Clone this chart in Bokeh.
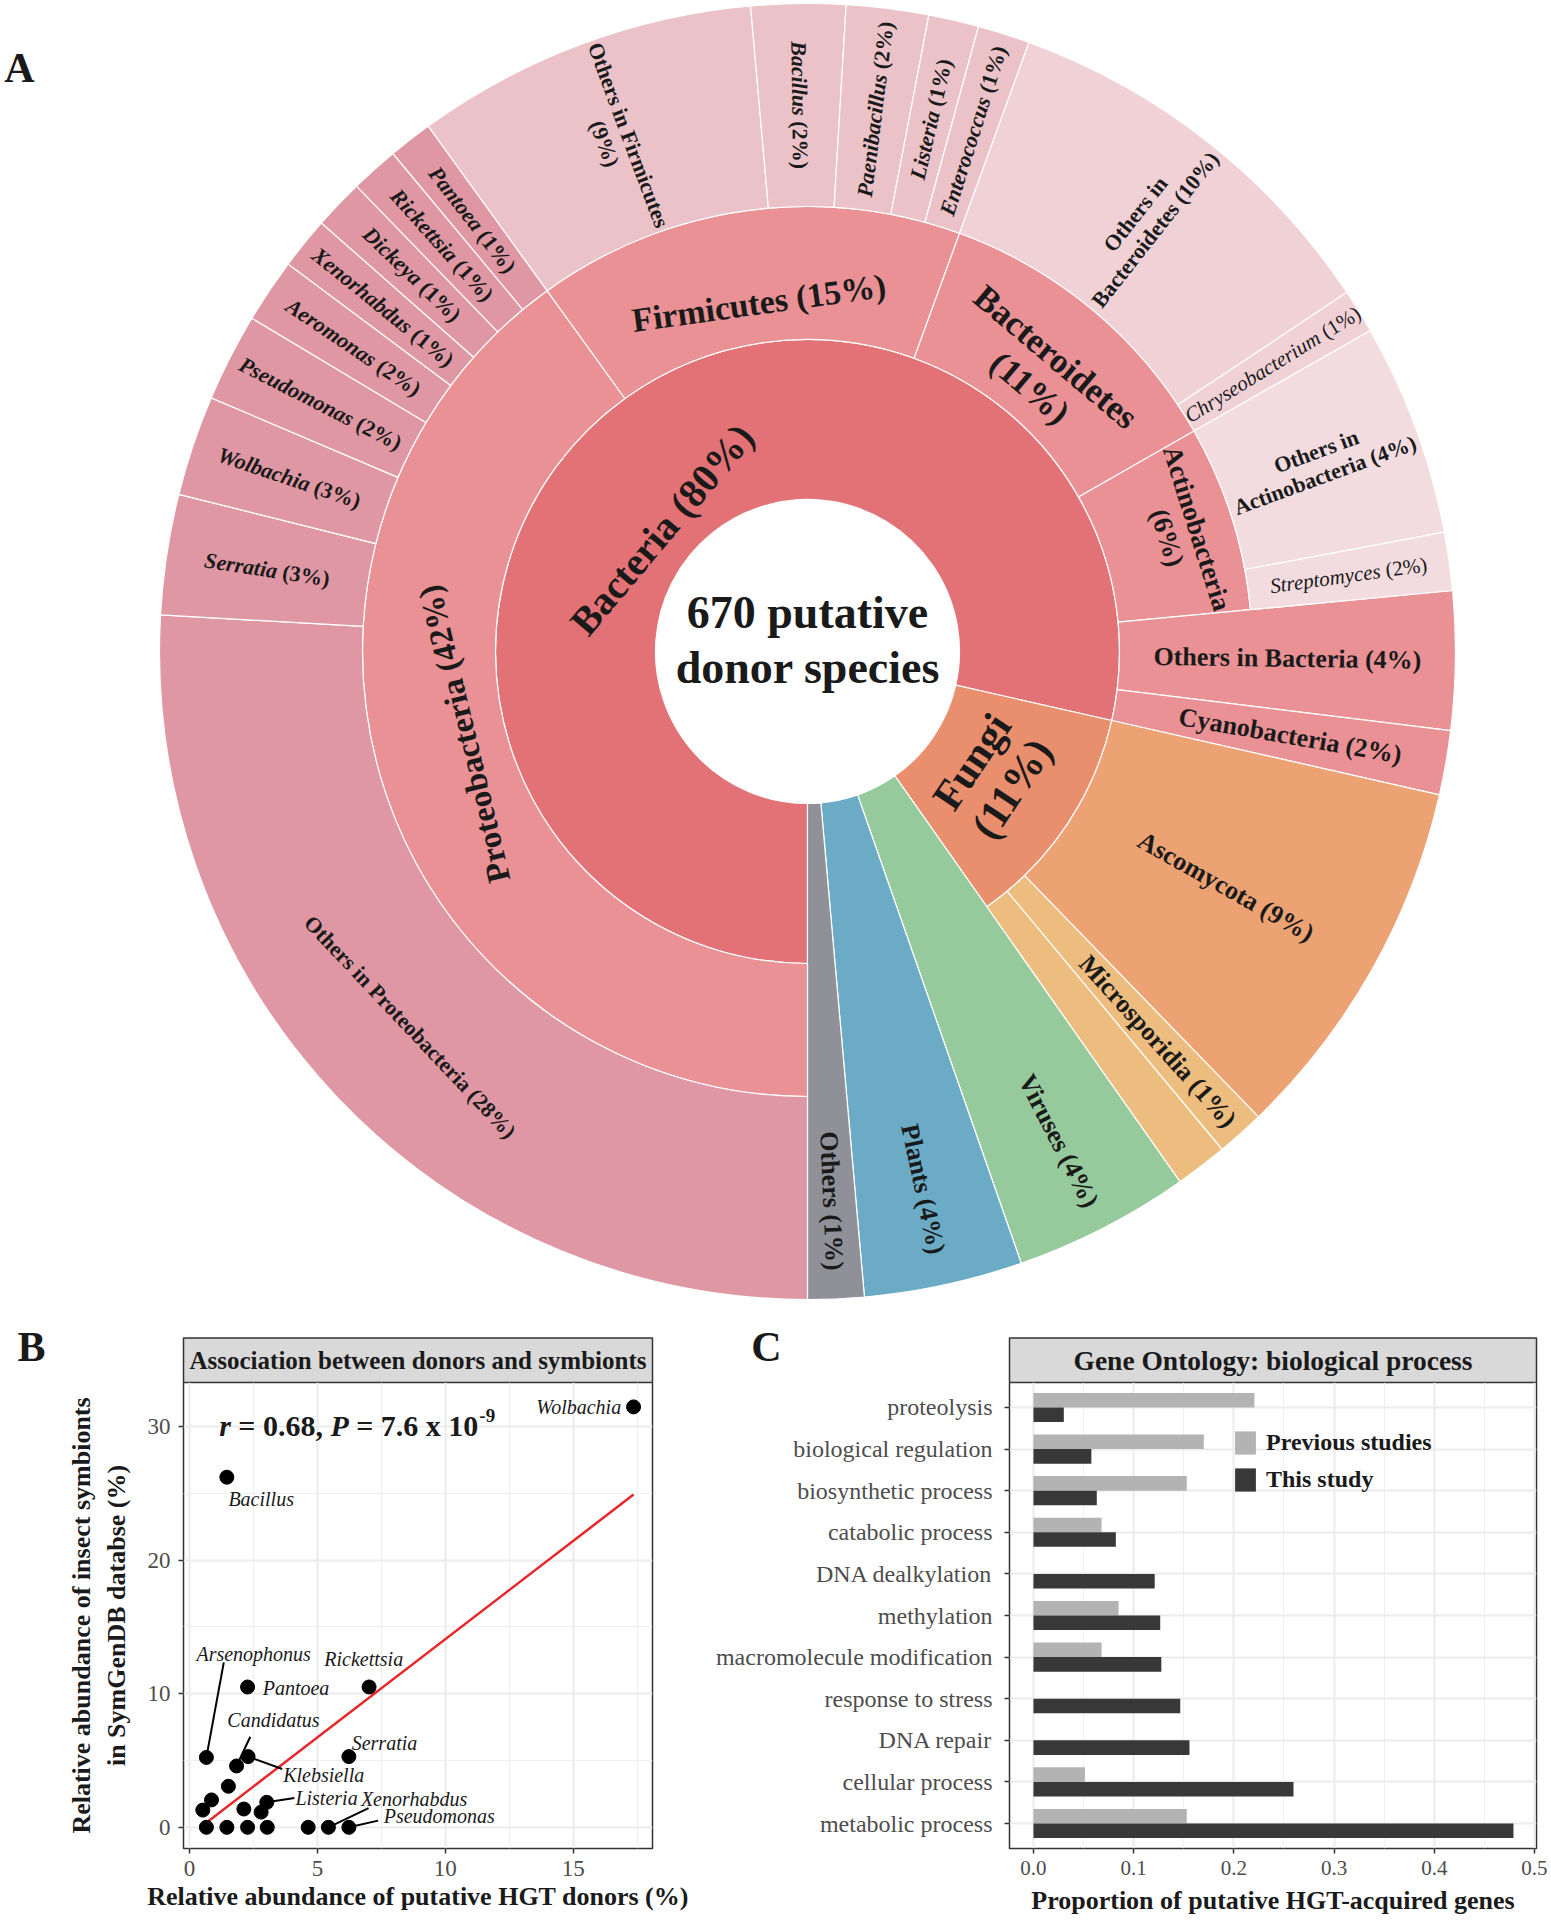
import math, glob
from collections import defaultdict
import numpy as np
from bokeh.plotting import figure
from bokeh.models import (Range1d, FixedTicker, PrintfTickFormatter, Legend, LegendItem,
                          ColumnDataSource)
from bokeh.layouts import column, row
from bokeh.embed import file_html
from bokeh.resources import INLINE
from bokeh.core.properties import value

FONT = "Liberation Serif"
INK = "#1A1A1A"

# ============================ DATA ============================
# ---- Panel A: share (%) of the 670 putative donor species; leaves clockwise from 6 o'clock
total_species = 670
kingdom_names = ["Bacteria", "Fungi", "Viruses", "Plants", "Others"]
kingdom_pct = ["80%", "11%", "4%", "4%", "1%"]
phylum_names = ["Proteobacteria", "Firmicutes", "Bacteroidetes", "Actinobacteria",
                "Others in Bacteria", "Cyanobacteria", "Ascomycota", "Microsporidia", "Other fungi"]
phylum_pct = ["42%", "15%", "11%", "6%", "4%", "2%", "9%", "1%", ""]
leaf_kingdom = ["Bacteria"] * 20 + ["Fungi"] * 3 + ["Viruses", "Plants", "Others"]
leaf_phylum = (["Proteobacteria"] * 9 + ["Firmicutes"] * 5 + ["Bacteroidetes"] * 2 +
               ["Actinobacteria"] * 2 + ["Others in Bacteria", "Cyanobacteria",
                "Ascomycota", "Microsporidia", "Other fungi", None, None, None])
leaf_genus = ["Others in Proteobacteria", "Serratia", "Wolbachia", "Pseudomonas", "Aeromonas",
              "Xenorhabdus", "Dickeya", "Rickettsia", "Pantoea",
              "Others in Firmicutes", "Bacillus", "Paenibacillus", "Listeria", "Enterococcus",
              "Others in Bacteroidetes", "Chryseobacterium",
              "Others in Actinobacteria", "Streptomyces"] + [None] * 8
genus_pct = ["28%", "3%", "3%", "2%", "2%", "1%", "1%", "1%", "1%",
             "9%", "2%", "2%", "1%", "1%", "10%", "1%", "4%", "2%"] + [None] * 8
leaf_share = [25.9, 3.0, 2.5, 2.2, 1.6, 1.3, 1.25, 1.2, 1.1,
              8.55, 2.35, 2.05, 1.25, 1.3,
              10.1, 1.1,
              5.3, 1.45,
              3.45, 1.6, 9.2, 1.2, 1.3, 4.4, 3.95, 1.4]
italic_genera = ["Serratia", "Wolbachia", "Pseudomonas", "Aeromonas", "Xenorhabdus", "Dickeya",
                 "Rickettsia", "Pantoea", "Bacillus", "Paenibacillus", "Listeria", "Enterococcus",
                 "Chryseobacterium", "Streptomyces"]

# ---- Panel B: association between donors and symbionts
donor_pct = [17.36, 1.46, 2.27, 7.02, 0.66, 6.23, 2.29, 1.84, 1.52, 0.86, 0.52, 2.125, 3.02, 2.80,
             0.66, 1.46, 2.27, 3.04, 4.64, 5.43, 6.23]
symbiont_pct = [31.46, 26.2, 10.5, 10.5, 5.23, 5.29, 5.29, 4.59, 3.07, 2.05, 1.29, 1.37, 1.87, 1.14,
                0, 0, 0, 0, 0, 0, 0]
point_names = ["Wolbachia", "Bacillus", "Pantoea", "Rickettsia", "Arsenophonus", "Serratia",
               "Klebsiella", "Candidatus", "", "", "", "", "Listeria", "", "", "", "", "", "",
               "Xenorhabdus", "Pseudomonas"]
fit_x = [0.66, 17.36]
fit_y = [0.35, 24.9]
r_value = "0.68"
p_mantissa = "7.6"
p_exponent = "-9"
b_xticks = [0, 5, 10, 15]
b_yticks = [0, 10, 20, 30]

# ---- Panel C: GO biological process
go_terms = ["proteolysis", "biological regulation", "biosynthetic process", "catabolic process",
            "DNA dealkylation", "methylation", "macromolecule modification", "response to stress",
            "DNA repair", "cellular process", "metabolic process"]
previous_studies = [0.2205, 0.170, 0.153, 0.068, 0.0, 0.0849, 0.068, 0.0, 0.0, 0.0514, 0.153]
this_study = [0.0303, 0.0578, 0.0632, 0.0822, 0.121, 0.1265, 0.1276, 0.1465, 0.1557, 0.2595, 0.479]
c_xticks = [0.0, 0.1, 0.2, 0.3, 0.4, 0.5]

# ============================ TEXT HELPERS ============================
_FILES = {"normal": "LiberationSerif-Regular.ttf", "bold": "LiberationSerif-Bold.ttf",
          "italic": "LiberationSerif-Italic.ttf", "bold italic": "LiberationSerif-BoldItalic.ttf"}
_cache = {}


def _font(style, size):
    key = (style, size)
    if key not in _cache:
        f = None
        try:
            from PIL import ImageFont
            hits = []
            for root in ("/usr/share/fonts", "/usr/local/share/fonts"):
                hits += glob.glob(root + "/**/" + _FILES[style], recursive=True)
            if hits:
                f = ImageFont.truetype(hits[0], int(round(size * 10)))
        except Exception:
            f = None
        _cache[key] = f
    return _cache[key]


def tw(text, style, size):
    f = _font(style, size)
    if f is not None:
        return f.getlength(text) / 10.0
    return 0.5 * size * len(text)


def place(out, lines, x, y, ang, size, gap=None, sx=1.0, sy=1.0, align="center"):
    """lines: list of lists of (text, style); segments of a line are separated by a space."""
    gap = size * 1.15 if gap is None else gap
    ux, uy = math.cos(ang), math.sin(ang)
    vx, vy = math.sin(ang), -math.cos(ang)
    n = len(lines)
    for i, segs in enumerate(lines):
        off = (i - (n - 1) / 2.0) * gap
        lx, ly = vx * off, vy * off
        ws = [tw(t, st, size) for t, st in segs]
        sps = [tw(" ", segs[k + 1][1], size) if k < len(segs) - 1 else 0.0 for k in range(len(segs))]
        total = sum(ws) + sum(sps)
        s = {"center": -total / 2.0, "left": 0.0, "right": -total}[align]
        for (t, st), w, sp in zip(segs, ws, sps):
            px, py = lx + ux * s, ly + uy * s
            out.append(dict(x=x + px * sx, y=y + py * sy, text=t, angle=ang, size=size, style=st))
            s += w + sp
    return out


def render_texts(p, items, color=INK):
    g = defaultdict(lambda: dict(x=[], y=[], text=[], angle=[]))
    for it in items:
        d = g[(it["style"], it["size"])]
        for k in ("x", "y", "text", "angle"):
            d[k].append(it[k])
    for (st, sz), d in g.items():
        p.text(x="x", y="y", text="text", angle="angle", source=ColumnDataSource(d),
               text_font=value(FONT), text_font_size=f"{sz}px", text_font_style=st,
               text_align="left", text_baseline="middle", text_color=color)


def blank_fig(w, h):
    p = figure(width=w, height=h, x_range=Range1d(0, w), y_range=Range1d(0, h),
               output_backend="svg", toolbar_location=None, x_axis_location=None,
               y_axis_location=None, min_border=0, title=None)
    p.outline_line_color = None
    p.xgrid.visible = False
    p.ygrid.visible = False
    return p


# ============================ PAGE LAYOUT (px) ============================
PAGE_W = 1551
PA_H = 1300                 # sunburst band
STRIP_TOP, STRIP_BOT = 1337.6, 1382.0
SB_H = int(STRIP_BOT - PA_H)        # strip band height (82)
LOW_H = 1920 - PA_H - SB_H          # plots band height (538)
B_W = 690
C_W = PAGE_W - B_W
B_LEFT, B_RIGHT, B_BOTTOM = 183, 38, 66
C_LEFT, C_RIGHT, C_BOTTOM = 319, 15, 72

# ============================ PANEL A ============================
CX, CY = 807.0, PA_H - 651.0
R0, R1, R2, R3 = 152.0, 312.0, 445.0, 648.0

COL_KINGDOM = {"Bacteria": "#E27275", "Fungi": "#E98F6D", "Viruses": "#96C99C",
               "Plants": "#6BABC6", "Others": "#8F9098"}
COL_PHYLUM = {"Ascomycota": "#ECA273", "Microsporidia": "#EDBD7F", "Other fungi": "#EDBD7F"}
COL_PHYLUM_DEFAULT = "#E99194"
COL_GENUS = {"Proteobacteria": "#DF98A3", "Firmicutes": "#EBC2C8",
             "Bacteroidetes": "#F0D1D6", "Actinobacteria": "#F3DCE0"}

LABEL_STYLE = {
    "Bacteria": dict(size=40, mode="tan", r=190, phi=140),
    "Fungi": dict(size=42, mode="tan", r=222, brk="pct"),
    "Proteobacteria": dict(size=33, mode="tan", r=353, phi=193.5, flip=False),
    "Firmicutes": dict(size=34, mode="tan", r=352),
    "Bacteroidetes": dict(size=35, mode="tan", r=365, brk="pct"),
    "Actinobacteria": dict(size=27, mode="tan", r=393, brk="pct"),
    "Others in Proteobacteria": dict(size=22, mode="tan"),
    "Others in Firmicutes": dict(size=22, brk="pct"),
    "Others in Bacteroidetes": dict(size=22, brk="in"),
    "Others in Actinobacteria": dict(size=22, brk="in"),
    "Others in Bacteria": dict(size=26),
    "Cyanobacteria": dict(size=26, r=490),
    "Ascomycota": dict(size=26),
    "Microsporidia": dict(size=26, r=524),
    "Viruses": dict(size=26, r=550),
    "Plants": dict(size=26, r=550),
    "Others": dict(size=26, r=550),
    "Chryseobacterium": dict(size=21, weight="normal"),
    "Streptomyces": dict(size=21, weight="normal"),
}

shares = np.array(leaf_share, float)
edges = np.concatenate([[0.0], np.cumsum(shares)]) / shares.sum() * 360.0


def groups(keys):
    out, start = [], 0
    for i in range(1, len(keys) + 1):
        if i == len(keys) or keys[i] != keys[start]:
            out.append((keys[start], start, i))
            start = i
    return out


segments = []
for k, i0, i1 in groups(leaf_kingdom):
    has_ph = any(leaf_phylum[j] for j in range(i0, i1))
    segments.append(dict(name=k, a0=edges[i0], a1=edges[i1], rin=R0, rout=R1 if has_ph else R3,
                         color=COL_KINGDOM[k], pct=kingdom_pct[kingdom_names.index(k)]))
for ph, i0, i1 in groups(leaf_phylum):
    if ph is None:
        continue
    has_g = any(leaf_genus[j] for j in range(i0, i1))
    segments.append(dict(name=ph, a0=edges[i0], a1=edges[i1], rin=R1, rout=R2 if has_g else R3,
                         color=COL_PHYLUM.get(ph, COL_PHYLUM_DEFAULT),
                         pct=phylum_pct[phylum_names.index(ph)]))
for j, gname in enumerate(leaf_genus):
    if gname is None:
        continue
    segments.append(dict(name=gname, a0=edges[j], a1=edges[j + 1], rin=R2, rout=R3,
                         color=COL_GENUS[leaf_phylum[j]], pct=genus_pct[j]))

wsrc = dict(x=[], y=[], ir=[], orr=[], sa=[], ea=[], color=[])
for s in segments:
    wsrc["x"].append(CX); wsrc["y"].append(CY)
    wsrc["ir"].append(s["rin"]); wsrc["orr"].append(s["rout"])
    wsrc["sa"].append(math.radians(270.0 - s["a1"]))
    wsrc["ea"].append(math.radians(270.0 - s["a0"]))
    wsrc["color"].append(s["color"])

pA = blank_fig(PAGE_W, PA_H)
pA.annular_wedge(x="x", y="y", inner_radius="ir", outer_radius="orr", start_angle="sa",
                 end_angle="ea", fill_color="color", line_color="white", line_width=1.2,
                 source=ColumnDataSource(wsrc))

textsA = []
for s in segments:
    if not s["pct"]:
        continue
    st = LABEL_STYLE.get(s["name"], {})
    size = st.get("size", 22)
    weight = st.get("weight", "bold")
    phi = st.get("phi", 270.0 - (s["a0"] + s["a1"]) / 2.0)
    r = st.get("r", (s["rin"] + s["rout"]) / 2.0)
    if st.get("mode", "rad") == "rad":
        d = phi if math.cos(math.radians(phi)) >= 0 else phi + 180.0
    else:
        d = phi - 90.0
        if st.get("flip", True) and math.cos(math.radians(d)) < -1e-9:
            d += 180.0
    name, pct = s["name"], "(" + s["pct"] + ")"
    ital = "italic" if weight == "normal" else "bold italic"
    first = [(name, ital)] if name in italic_genera else [(name, weight)]
    brk = st.get("brk")
    if brk == "pct":
        lines = [first, [(pct, weight)]]
    elif brk == "in":
        lines = [[("Others in", weight)], [(name.replace("Others in ", ""), weight), (pct, weight)]]
    else:
        lines = [first + [(pct, weight)]]
    x = CX + r * math.cos(math.radians(phi))
    y = CY + r * math.sin(math.radians(phi))
    place(textsA, lines, x, y, math.radians(d), size)

place(textsA, [[(f"{total_species} putative", "bold")], [("donor species", "bold")]],
      CX, CY + 12, 0.0, 46, gap=55)
place(textsA, [[("A", "bold")]], 19, PA_H - 67, 0.0, 42)
render_texts(pA, textsA)

# ============================ STRIPS (facet headers + panel letters) ============================
def strip_fig(w, frame_left, frame_right, title, title_px, letter, letter_x):
    p = blank_fig(w, SB_H)
    top = SB_H - (STRIP_TOP - PA_H)
    p.quad(left=[frame_left], right=[frame_right], bottom=[0], top=[top],
           fill_color="#D9D9D9", line_color="#333333", line_width=1.5)
    t = []
    place(t, [[(title, "bold")]], (frame_left + frame_right) / 2, top / 2, 0.0, title_px)
    place(t, [[(letter, "bold")]], letter_x, SB_H - 46, 0.0, 42)
    render_texts(p, t)
    return p


sB = strip_fig(B_W, B_LEFT, B_W - B_RIGHT, "Association between donors and symbionts", 25, "B", 31)
sC = strip_fig(C_W, C_LEFT, C_W - C_RIGHT, "Gene Ontology: biological process", 27.5, "C", 766 - B_W)


# ============================ shared axis style ============================
def style_axes(p, tick_px, title_px):
    for ax in p.axis:
        ax.axis_line_color = None
        ax.major_tick_line_color = "#333333"
        ax.major_tick_line_width = 1.5
        ax.major_tick_out = 5
        ax.major_tick_in = 0
        ax.minor_tick_line_color = None
        ax.major_label_text_font = FONT
        ax.major_label_text_font_size = f"{tick_px}px"
        ax.major_label_text_color = "#4D4D4D"
        ax.axis_label_text_font = FONT
        ax.axis_label_text_font_size = f"{title_px}px"
        ax.axis_label_text_font_style = "bold"
        ax.axis_label_text_color = INK
    p.outline_line_color = "#333333"
    p.outline_line_width = 1.5
    p.grid.grid_line_color = "#EBEBEB"
    p.grid.grid_line_width = 2


# ============================ PANEL B ============================
XB0, XB1 = -0.235, 18.1
YB0, YB1 = -1.585, 33.285
pB = figure(width=B_W, height=LOW_H, x_range=Range1d(XB0, XB1), y_range=Range1d(YB0, YB1),
            output_backend="svg", toolbar_location=None, min_border_left=B_LEFT,
            min_border_right=B_RIGHT, min_border_top=0, min_border_bottom=B_BOTTOM, title=None)
pB.xaxis.ticker = FixedTicker(ticks=b_xticks, minor_ticks=[2.5, 7.5, 12.5, 17.5])
pB.yaxis.ticker = FixedTicker(ticks=b_yticks, minor_ticks=[5, 15, 25])
pB.xaxis.axis_label = "Relative abundance of putative HGT donors (%)"
pB.yaxis.axis_label = "Relative abundance of insect symbionts\nin SymGenDB databse (%)"
style_axes(pB, 23, 26)
pB.xaxis.major_label_standoff = 7
pB.xaxis.axis_label_standoff = 3
pB.yaxis.major_label_standoff = 8
pB.yaxis.axis_label_standoff = 14
pB.grid.minor_grid_line_color = "#EFEFEF"
pB.grid.minor_grid_line_width = 1

b_fw = B_W - B_LEFT - B_RIGHT
b_fh = (1853.6 - STRIP_BOT)
b_ppx = b_fw / (XB1 - XB0)
b_ppy = b_fh / (YB1 - YB0)

pB.line(fit_x, fit_y, line_color="#E8262A", line_width=2.5)

B_LABELS = {
    "Wolbachia": (16.875, 31.46, "right", None),
    "Bacillus": (1.52, 24.6, "left", None),
    "Pantoea": (2.86, 10.44, "left", None),
    "Rickettsia": (5.27, 12.63, "left", None),
    "Arsenophonus": (0.27, 12.98, "left", (1.34, 12.34)),
    "Candidatus": (1.48, 8.01, "left", (2.375, 6.78)),
    "Serratia": (6.34, 6.29, "left", None),
    "Klebsiella": (3.66, 3.92, "left", (3.625, 4.36)),
    "Listeria": (4.14, 2.16, "left", (4.1, 2.19)),
    "Xenorhabdus": (6.7, 2.1, "left", (7.0, 1.43)),
    "Pseudomonas": (7.59, 0.85, "left", (7.375, 0.5)),
}
seg = dict(x0=[], y0=[], x1=[], y1=[])
textsB = []
for i, nm in enumerate(point_names):
    if nm not in B_LABELS:
        continue
    lx, ly, al, lead = B_LABELS[nm]
    place(textsB, [[(nm, "italic")]], lx, ly, 0.0, 20, sx=1 / b_ppx, sy=1 / b_ppy, align=al)
    if lead is not None:
        seg["x0"].append(lead[0]); seg["y0"].append(lead[1])
        seg["x1"].append(donor_pct[i]); seg["y1"].append(symbiont_pct[i])
pB.segment(x0="x0", y0="y0", x1="x1", y1="y1", source=ColumnDataSource(seg),
           line_color="black", line_width=2)
pB.scatter(donor_pct, symbiont_pct, size=14, color="black")

ann = [("r", "bold italic"), ("= " + r_value + ",", "bold"), ("P", "bold italic"),
       ("= " + p_mantissa + " x 10", "bold")]
place(textsB, [ann], 1.16, 30.04, 0.0, 30, sx=1 / b_ppx, sy=1 / b_ppy, align="left")
end_px = sum(tw(t, s, 30) for t, s in ann) + 3 * tw(" ", "bold", 30)
place(textsB, [[(p_exponent, "bold")]], 1.16 + (end_px + 1) / b_ppx, 30.04 + 10 / b_ppy, 0.0, 19,
      sx=1 / b_ppx, sy=1 / b_ppy, align="left")
render_texts(pB, textsB)

# ============================ PANEL C ============================
XC0, XC1 = -0.0239, 0.502
nC = len(go_terms)
YC0, YC1 = 0.4, nC + 0.6
pC = figure(width=C_W, height=LOW_H, x_range=Range1d(XC0, XC1), y_range=Range1d(YC0, YC1),
            output_backend="svg", toolbar_location=None, min_border_left=C_LEFT,
            min_border_right=C_RIGHT, min_border_top=0, min_border_bottom=C_BOTTOM, title=None)
ypos = [nC - i for i in range(nC)]
pC.xaxis.ticker = FixedTicker(ticks=c_xticks, minor_ticks=[0.05, 0.15, 0.25, 0.35, 0.45])
pC.xaxis.formatter = PrintfTickFormatter(format="%.1f")
pC.yaxis.ticker = FixedTicker(ticks=ypos)
pC.yaxis.major_label_overrides = {yp: t for yp, t in zip(ypos, go_terms)}
pC.xaxis.axis_label = "Proportion of putative HGT-acquired genes"
style_axes(pC, 21, 26)
pC.yaxis.major_label_text_font_size = "24px"
pC.xaxis.major_label_standoff = 7
pC.xaxis.axis_label_standoff = 8
pC.yaxis.major_label_standoff = 12
pC.xgrid.minor_grid_line_color = "#EFEFEF"
pC.xgrid.minor_grid_line_width = 1

bw = 0.35
prev_y = [yp + bw / 2 for yp, v in zip(ypos, previous_studies) if v > 0]
prev_v = [v for v in previous_studies if v > 0]
r_prev = pC.hbar(y=prev_y, right=prev_v, left=0, height=bw, fill_color="#B3B3B3", line_color=None)
r_this = pC.hbar(y=[yp - bw / 2 for yp in ypos], right=this_study, left=0, height=bw,
                 fill_color="#383838", line_color=None)
legend = Legend(items=[LegendItem(label="Previous studies", renderers=[r_prev]),
                       LegendItem(label="This study", renderers=[r_this])],
                location=(223, 354), glyph_width=26, glyph_height=29, label_height=29,
                spacing=8, label_standoff=8, padding=0, margin=0,
                border_line_color=None, background_fill_alpha=0,
                label_text_font=FONT, label_text_font_style="bold",
                label_text_font_size="24px", label_text_color=INK)
pC.add_layout(legend)

layout = column(pA, row(sB, sC), row(pB, pC))
open("out.html", "w").write(file_html(layout, INLINE))
